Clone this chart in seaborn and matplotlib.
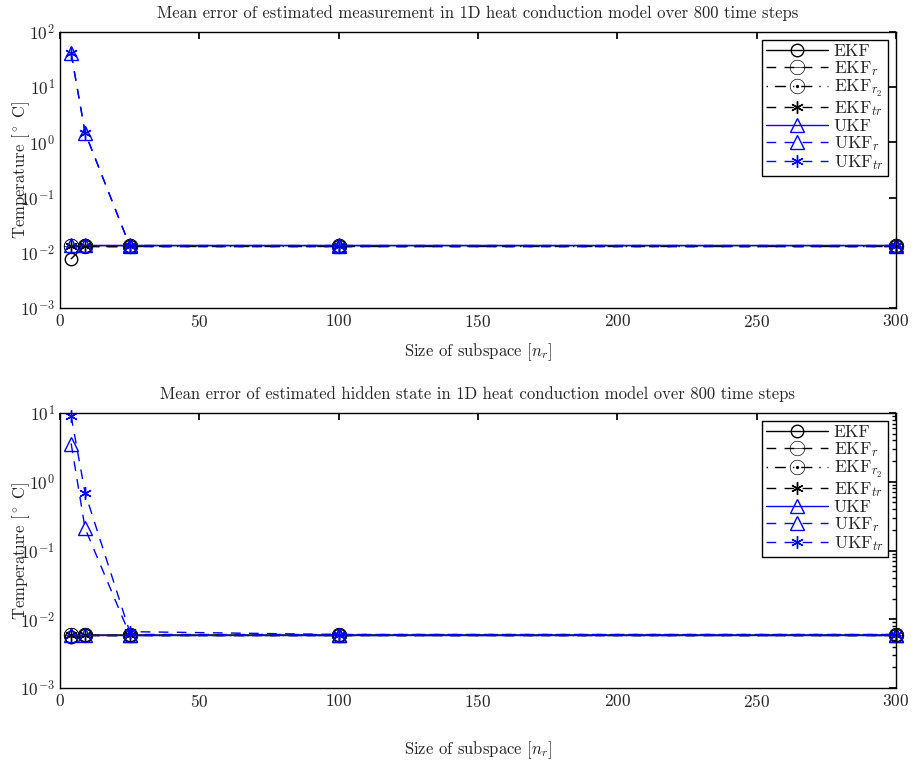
import numpy as np
import pandas as pd
import matplotlib
matplotlib.use("Agg")
import matplotlib.pyplot as plt
import seaborn as sns
from matplotlib.ticker import LogLocator, NullLocator

sns.set_theme(style="white")
plt.rcParams['font.family'] = ['cmr10', 'DejaVu Serif']
plt.rcParams['mathtext.fontset'] = 'cm'
plt.rcParams['axes.formatter.use_mathtext'] = True

n_r = [4, 9, 25, 100, 300]
series_names = ["EKF", "EKF$_r$", "EKF$_{r_2}$", "EKF$_{tr}$", "UKF", "UKF$_r$", "UKF$_{tr}$"]

# measurement error (top)
meas_EKF = [0.0078, 0.0135, 0.0135, 0.0135, 0.0135]
meas_EKF_r = [0.0135, 0.0135, 0.0135, 0.0135, 0.0135]
meas_EKF_r2 = [0.0135, 0.0135, 0.0135, 0.0135, 0.0135]
meas_EKF_tr = [0.0135, 0.0135, 0.0135, 0.0135, 0.0135]
meas_UKF = [0.014, 0.014, 0.014, 0.014, 0.014]
meas_UKF_r = [41.0, 1.5, 0.0135, 0.0135, 0.0135]
meas_UKF_tr = [41.0, 1.5, 0.0135, 0.0135, 0.0135]

# hidden state error (bottom)
hid_EKF = [0.0055, 0.0059, 0.0059, 0.0059, 0.0059]
hid_EKF_r = [0.0059, 0.0059, 0.0059, 0.0059, 0.0059]
hid_EKF_r2 = [0.0059, 0.0059, 0.0059, 0.0059, 0.0059]
hid_EKF_tr = [0.0059, 0.0059, 0.0059, 0.0059, 0.0059]
hid_UKF = [0.006, 0.006, 0.006, 0.006, 0.006]
hid_UKF_r = [3.6, 0.21, 0.006, 0.006, 0.006]
hid_UKF_tr = [9.0, 0.69, 0.0066, 0.006, 0.006]

meas = [meas_EKF, meas_EKF_r, meas_EKF_r2, meas_EKF_tr, meas_UKF, meas_UKF_r, meas_UKF_tr]
hid = [hid_EKF, hid_EKF_r, hid_EKF_r2, hid_EKF_tr, hid_UKF, hid_UKF_r, hid_UKF_tr]

star = (6, 2, 0)
dash = (0, (7, 6))
styles = [
    dict(color="black", ls="-", marker="o", ms=9, glyph=False),
    dict(color="black", ls=dash, marker=r"$\ominus$", ms=11, glyph=True),
    dict(color="black", ls=(0, (1, 5, 8, 5)), marker=r"$\odot$", ms=11, glyph=True),
    dict(color="black", ls=dash, marker=star, ms=9, glyph=False),
    dict(color="blue", ls="-", marker="^", ms=10, glyph=False),
    dict(color="blue", ls=dash, marker="^", ms=10, glyph=False),
    dict(color="blue", ls=dash, marker=star, ms=9, glyph=False),
]

fig = plt.figure(figsize=(9.14, 7.68), dpi=100)
ax1 = fig.add_axes([60/914, 1-308/768, 836/914, 276/768])
ax2 = fig.add_axes([60/914, 1-688/768, 836/914, 275/768])

titles = ["Mean error of estimated measurement in 1D heat conduction model over 800 time steps",
          "Mean error of estimated hidden state in 1D heat conduction model over 800 time steps"]

for ax, data, title, ylim in [(ax1, meas, titles[0], (1e-3, 1e2)), (ax2, hid, titles[1], (1e-3, 1e1))]:
    for name, vals, st in zip(series_names, data, styles):
        df = pd.DataFrame({"n_r": n_r, "err": vals})
        if st["glyph"]:
            kw = dict(markerfacecolor=st["color"], markeredgecolor=st["color"], markeredgewidth=0.0)
        else:
            kw = dict(markerfacecolor="none", markeredgecolor=st["color"], markeredgewidth=1.0)
        sns.lineplot(data=df, x="n_r", y="err", ax=ax, color=st["color"], linestyle=st["ls"],
                     marker=st["marker"], markersize=st["ms"], linewidth=1.0,
                     label=name, clip_on=False, **kw)
    ax.set_yscale("log")
    ax.set_ylim(*ylim)
    ax.set_xlim(0, 300)
    ax.set_xticks([0, 50, 100, 150, 200, 250, 300])
    ax.yaxis.set_major_locator(LogLocator(base=10, numticks=10))
    ax.set_title(title, fontsize=12, pad=10)
    ax.set_xlabel("Size of subspace [$n_r$]", fontsize=12, labelpad=8)
    ax.set_ylabel("Temperature [$^\\circ$ C]", fontsize=12)
    ax.yaxis.set_label_coords(-0.034, 0.5)
    ax.tick_params(axis="both", which="both", direction="in", top=True, right=True,
                   labelsize=12.5, length=5, color="black")
    ax.tick_params(which="minor", length=3)
    for sp in ax.spines.values():
        sp.set_color("black")
        sp.set_linewidth(1.0)
    leg = ax.legend(loc="upper right", fontsize=12.5, frameon=True, fancybox=False,
                    framealpha=1, edgecolor="black", borderpad=0.25, labelspacing=0.0,
                    handlelength=3.6, handletextpad=0.3, borderaxespad=0.45)
    leg.get_frame().set_linewidth(1.0)

ax1.yaxis.set_minor_locator(NullLocator())
ax2.yaxis.set_minor_locator(LogLocator(base=10, subs=np.arange(2, 10), numticks=20))
ax1.xaxis.set_minor_locator(NullLocator())
ax2.xaxis.set_minor_locator(NullLocator())
ax2.xaxis.labelpad = 21

fig.savefig("out.png", dpi=100)
